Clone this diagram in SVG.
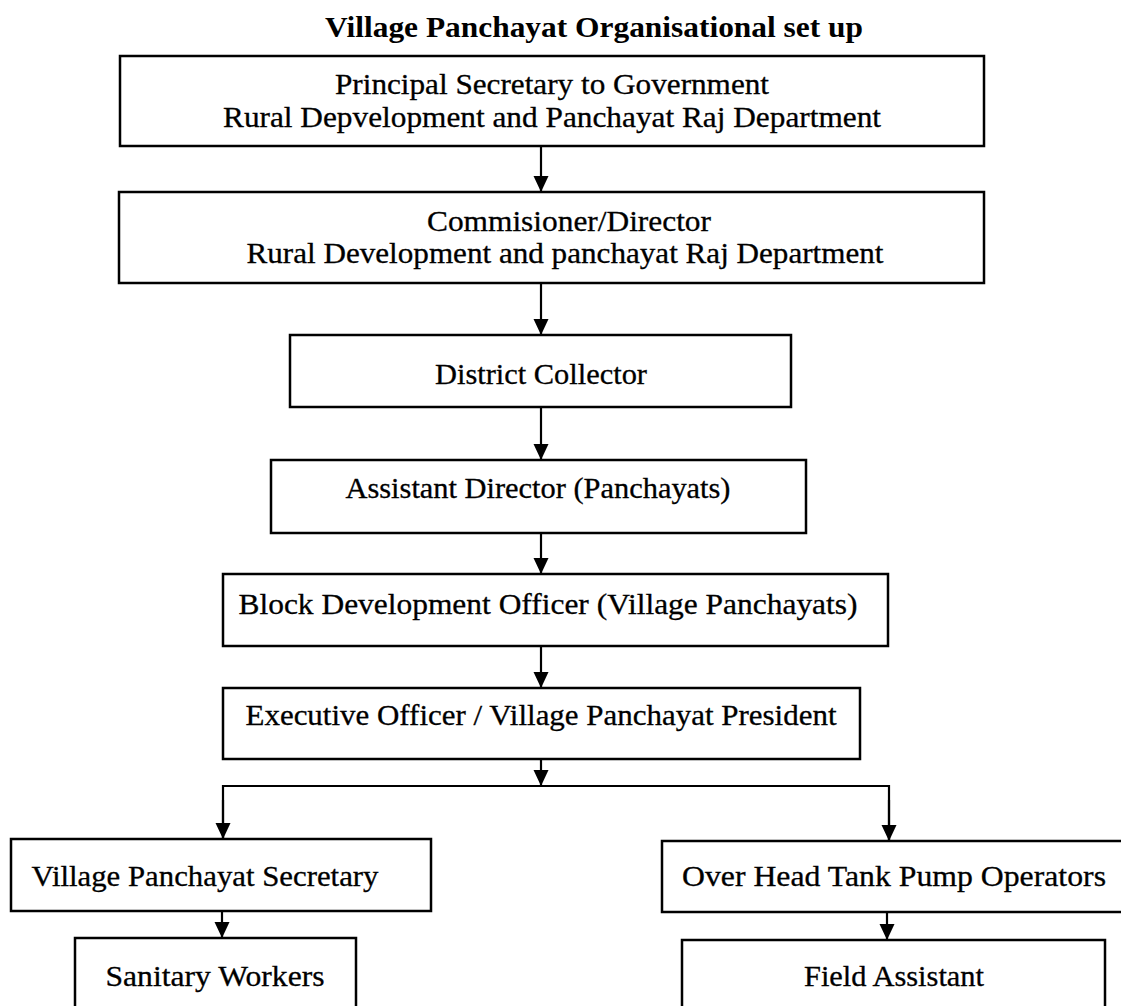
<svg xmlns="http://www.w3.org/2000/svg" width="1121" height="1006" viewBox="0 0 1121 1006">
<style>
.box{fill:#fff;stroke:#000;stroke-width:2.5}
.t{font-family:"Liberation Serif","Times New Roman",serif;font-size:29px;fill:#000;stroke:#000;stroke-width:0.3;text-anchor:middle}
.title{font-family:"Liberation Serif","Times New Roman",serif;font-size:30px;font-weight:bold;fill:#000;text-anchor:middle}
.c{fill:none;stroke:#000;stroke-width:2.2}
</style>
<defs>
<marker id="ah" markerUnits="userSpaceOnUse" markerWidth="16" markerHeight="16" viewBox="0 0 16 16" refX="16" refY="8" orient="auto">
<path d="M0,0.5 L16,8 L0,15.5 z" fill="#000"/>
</marker>
</defs>
<rect width="1121" height="1006" fill="#fff"/>
<text class="title" x="594" y="37" textLength="538" lengthAdjust="spacingAndGlyphs">Village Panchayat  Organisational set up</text>

<g id="connectors">
<line class="c" x1="541" y1="146" x2="541" y2="192" marker-end="url(#ah)"/>
<line class="c" x1="541" y1="283" x2="541" y2="335" marker-end="url(#ah)"/>
<line class="c" x1="541" y1="407" x2="541" y2="460" marker-end="url(#ah)"/>
<line class="c" x1="541" y1="533" x2="541" y2="574" marker-end="url(#ah)"/>
<line class="c" x1="541" y1="646" x2="541" y2="688" marker-end="url(#ah)"/>
<line class="c" x1="541" y1="759" x2="541" y2="786" marker-end="url(#ah)"/>
<polyline class="c" points="223,839 223,786 889,786 889,841"/>
<line class="c" x1="223" y1="800" x2="223" y2="839" marker-end="url(#ah)"/>
<line class="c" x1="889" y1="800" x2="889" y2="841" marker-end="url(#ah)"/>
<line class="c" x1="222" y1="911" x2="222" y2="938" marker-end="url(#ah)"/>
<line class="c" x1="887" y1="912" x2="887" y2="940" marker-end="url(#ah)"/>
</g>

<g id="n1">
<rect class="box" x="120" y="56" width="864" height="90"/>
<text class="t" x="552" y="94" textLength="434" lengthAdjust="spacingAndGlyphs">Principal Secretary to Government</text>
<text class="t" x="552" y="127" textLength="658" lengthAdjust="spacingAndGlyphs">Rural Depvelopment and Panchayat Raj Department</text>
</g>
<g id="n2">
<rect class="box" x="119" y="192" width="865" height="91"/>
<text class="t" x="569" y="231" textLength="284" lengthAdjust="spacingAndGlyphs">Commisioner/Director</text>
<text class="t" x="565" y="263" textLength="637" lengthAdjust="spacingAndGlyphs">Rural Development and panchayat Raj Department</text>
</g>
<g id="n3">
<rect class="box" x="290" y="335" width="501" height="72"/>
<text class="t" x="541" y="384" textLength="212" lengthAdjust="spacingAndGlyphs">District Collector</text>
</g>
<g id="n4">
<rect class="box" x="271" y="460" width="535" height="73"/>
<text class="t" x="538" y="498" textLength="385" lengthAdjust="spacingAndGlyphs">Assistant Director (Panchayats)</text>
</g>
<g id="n5">
<rect class="box" x="223" y="574" width="665" height="72"/>
<text class="t" x="548" y="614" textLength="619" lengthAdjust="spacingAndGlyphs">Block Development Officer (Village Panchayats)</text>
</g>
<g id="n6">
<rect class="box" x="223" y="688" width="637" height="71"/>
<text class="t" x="541" y="725" textLength="591" lengthAdjust="spacingAndGlyphs">Executive Officer / Village  Panchayat President</text>
</g>
<g id="n7">
<rect class="box" x="11" y="839" width="420" height="72"/>
<text class="t" x="205" y="886" textLength="347" lengthAdjust="spacingAndGlyphs">Village Panchayat Secretary</text>
</g>
<g id="n8">
<rect class="box" x="662" y="841" width="462" height="71"/>
<text class="t" x="894" y="886" textLength="424" lengthAdjust="spacingAndGlyphs">Over Head Tank Pump Operators</text>
</g>
<g id="n9">
<rect class="box" x="75" y="938" width="281" height="80"/>
<text class="t" x="215" y="986" textLength="219" lengthAdjust="spacingAndGlyphs">Sanitary Workers</text>
</g>
<g id="n10">
<rect class="box" x="682" y="940" width="423" height="80"/>
<text class="t" x="894" y="986" textLength="180" lengthAdjust="spacingAndGlyphs">Field Assistant</text>
</g>
</svg>
